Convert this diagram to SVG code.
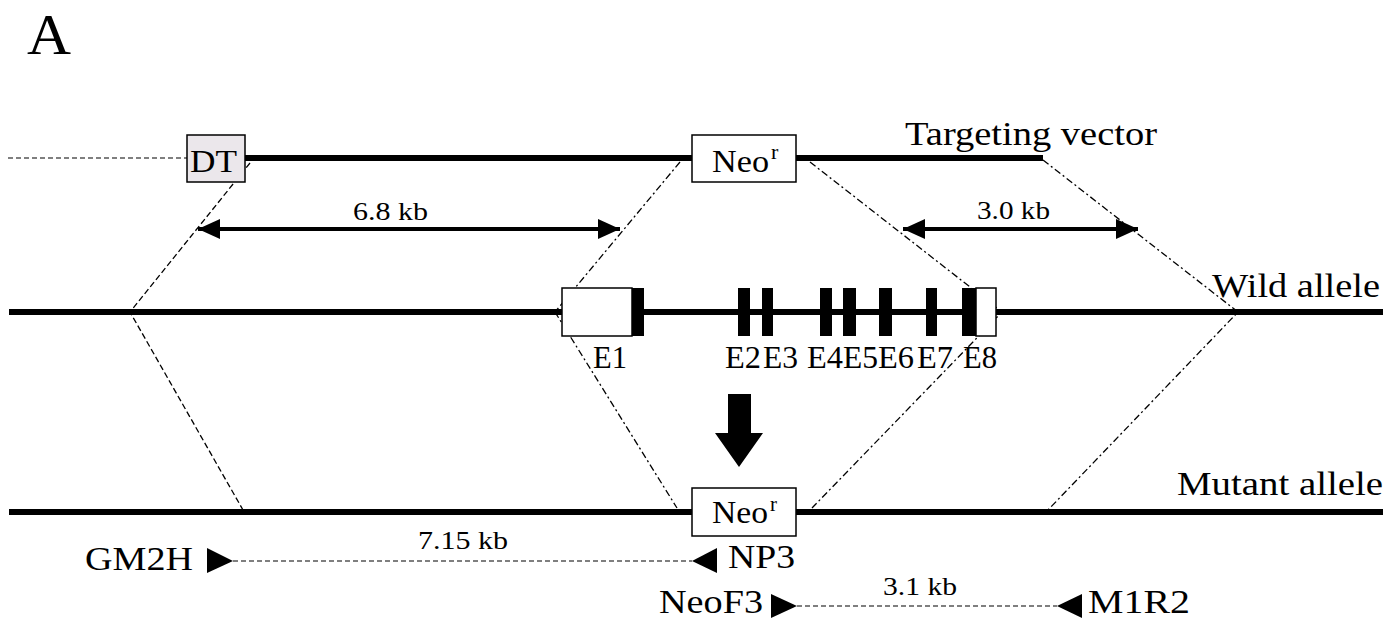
<svg xmlns="http://www.w3.org/2000/svg" width="1397" height="624" viewBox="0 0 1397 624">
  <style>
    .t { font-family: 'Liberation Serif', Tinos, 'Times New Roman', Times, serif; fill: #000; }
    .dna { stroke: #000; stroke-width: 6; fill: none; }
    .cross { stroke: #000; stroke-width: 1.3; fill: none; stroke-dasharray: 6 3; }
    .crossdd { stroke: #000; stroke-width: 1.3; fill: none; stroke-dasharray: 7 3 2 3; }
    .prim { stroke: #000; stroke-width: 1.2; fill: none; stroke-dasharray: 5 3; }
    .dim { stroke: #000; stroke-width: 4; fill: none; }
    .box { fill: #fff; stroke: #000; stroke-width: 1.5; }
    .exon { fill: #000; }
  </style>
  <defs>
    <marker id="ah" viewBox="0 0 22 20" refX="22" refY="10" markerWidth="22" markerHeight="20" markerUnits="userSpaceOnUse" orient="auto-start-reverse">
      <path d="M0,0 L22,10 L0,20 Z" fill="#000"/>
    </marker>
  </defs>

  <text class="t" x="27" y="54" font-size="58" textLength="44" lengthAdjust="spacingAndGlyphs">A</text>

  <!-- crossover connectors -->
  <g id="connectors">
    <line class="prim" x1="8" y1="158" x2="187" y2="158"/>
    <polyline class="cross" points="250,163 130,312 243,510"/>
    <polyline class="crossdd" points="680,162 555,312 677,508"/>
    <polyline class="crossdd" points="810,162 1002,312 812,508"/>
    <polyline class="crossdd" points="1043,160 1238,312 1048,510"/>
    <!-- homology arm lengths -->
    <line class="dim" x1="198" y1="229" x2="620" y2="229" marker-start="url(#ah)" marker-end="url(#ah)"/>
    <line class="dim" x1="903" y1="229" x2="1138" y2="229" marker-start="url(#ah)" marker-end="url(#ah)"/>
    <!-- PCR products -->
    <line class="prim" x1="233" y1="561" x2="692" y2="561"/>
    <line class="prim" x1="797" y1="606" x2="1057" y2="606"/>
    <!-- recombination arrow -->
    <polygon points="728,394 751,394 751,433 763,433 739,467 715,433 728,433" fill="#000"/>
  </g>

  <!-- targeting vector -->
  <g id="targeting-vector">
    <line class="dna" x1="245" y1="158" x2="692" y2="158"/>
    <line class="dna" x1="796" y1="158" x2="1043" y2="158"/>
    <text class="t" x="905" y="145" font-size="33" textLength="252" lengthAdjust="spacingAndGlyphs">Targeting vector</text>
  </g>
  <g id="dt">
    <rect x="187" y="135" width="58" height="47" fill="#ebe7eb" stroke="#000" stroke-width="1.5"/>
    <text class="t" x="190" y="172" font-size="32" textLength="47" lengthAdjust="spacingAndGlyphs">DT</text>
  </g>
  <g id="neo-vector">
    <rect class="box" x="692" y="135" width="104" height="47"/>
    <text class="t" x="712" y="172" font-size="32" textLength="57" lengthAdjust="spacingAndGlyphs">Neo</text>
    <text class="t" x="771" y="159" font-size="22">r</text>
  </g>
  <g id="arm-labels">
    <text class="t" x="353" y="220" font-size="26" textLength="75" lengthAdjust="spacingAndGlyphs">6.8 kb</text>
    <text class="t" x="977" y="219" font-size="26" textLength="73" lengthAdjust="spacingAndGlyphs">3.0 kb</text>
  </g>

  <!-- wild-type allele -->
  <g id="wild-allele">
    <line class="dna" x1="9" y1="312" x2="1383" y2="312"/>
    <text class="t" x="1212" y="297" font-size="34" textLength="168" lengthAdjust="spacingAndGlyphs">Wild allele</text>
  </g>
  <g id="exons">
    <rect class="box" x="562" y="288" width="70" height="48"/>
    <rect class="exon" x="632" y="288" width="12" height="48"/>
    <rect class="exon" x="738" y="288" width="12" height="48"/>
    <rect class="exon" x="762" y="288" width="11" height="48"/>
    <rect class="exon" x="820" y="288" width="12" height="48"/>
    <rect class="exon" x="843" y="288" width="13" height="48"/>
    <rect class="exon" x="879" y="288" width="13" height="48"/>
    <rect class="exon" x="926" y="288" width="11" height="48"/>
    <rect class="exon" x="962" y="288" width="14" height="48"/>
    <rect class="box" x="976" y="288" width="20" height="48"/>
    <text class="t" x="593" y="368" font-size="31" textLength="34" lengthAdjust="spacingAndGlyphs">E1</text>
    <text class="t" x="725" y="368" font-size="31" textLength="36" lengthAdjust="spacingAndGlyphs">E2</text>
    <text class="t" x="763" y="368" font-size="31" textLength="35" lengthAdjust="spacingAndGlyphs">E3</text>
    <text class="t" x="807" y="368" font-size="31" textLength="36" lengthAdjust="spacingAndGlyphs">E4</text>
    <text class="t" x="843" y="368" font-size="31" textLength="35" lengthAdjust="spacingAndGlyphs">E5</text>
    <text class="t" x="878" y="368" font-size="31" textLength="36" lengthAdjust="spacingAndGlyphs">E6</text>
    <text class="t" x="917" y="368" font-size="31" textLength="36" lengthAdjust="spacingAndGlyphs">E7</text>
    <text class="t" x="963" y="368" font-size="31" textLength="34" lengthAdjust="spacingAndGlyphs">E8</text>
  </g>

  <!-- mutant allele -->
  <g id="mutant-allele">
    <line class="dna" x1="9" y1="512" x2="692" y2="512"/>
    <line class="dna" x1="796" y1="512" x2="1383" y2="512"/>
    <text class="t" x="1177" y="495" font-size="34" textLength="206" lengthAdjust="spacingAndGlyphs">Mutant allele</text>
  </g>
  <g id="neo-mutant">
    <rect class="box" x="692" y="488" width="104" height="48"/>
    <text class="t" x="712" y="523" font-size="31" textLength="56" lengthAdjust="spacingAndGlyphs">Neo</text>
    <text class="t" x="770" y="511" font-size="21">r</text>
  </g>

  <!-- primers -->
  <g id="primer-gm2h">
    <text class="t" x="85" y="570" font-size="33" textLength="108" lengthAdjust="spacingAndGlyphs">GM2H</text>
    <polygon points="207,548 233,561 207,573" fill="#000"/>
  </g>
  <g id="primer-np3">
    <polygon points="717,548 692,561 717,573" fill="#000"/>
    <text class="t" x="728" y="568" font-size="33" textLength="67" lengthAdjust="spacingAndGlyphs">NP3</text>
  </g>
  <g id="primer-neof3">
    <text class="t" x="659" y="613" font-size="33" textLength="104" lengthAdjust="spacingAndGlyphs">NeoF3</text>
    <polygon points="771,594 797,606 771,618" fill="#000"/>
  </g>
  <g id="primer-m1r2">
    <polygon points="1082,594 1057,606 1082,618" fill="#000"/>
    <text class="t" x="1088" y="613" font-size="33" textLength="102" lengthAdjust="spacingAndGlyphs">M1R2</text>
  </g>
  <g id="product-labels">
    <text class="t" x="418" y="549" font-size="26" textLength="90" lengthAdjust="spacingAndGlyphs">7.15 kb</text>
    <text class="t" x="883" y="595" font-size="26" textLength="74" lengthAdjust="spacingAndGlyphs">3.1 kb</text>
  </g>
</svg>
